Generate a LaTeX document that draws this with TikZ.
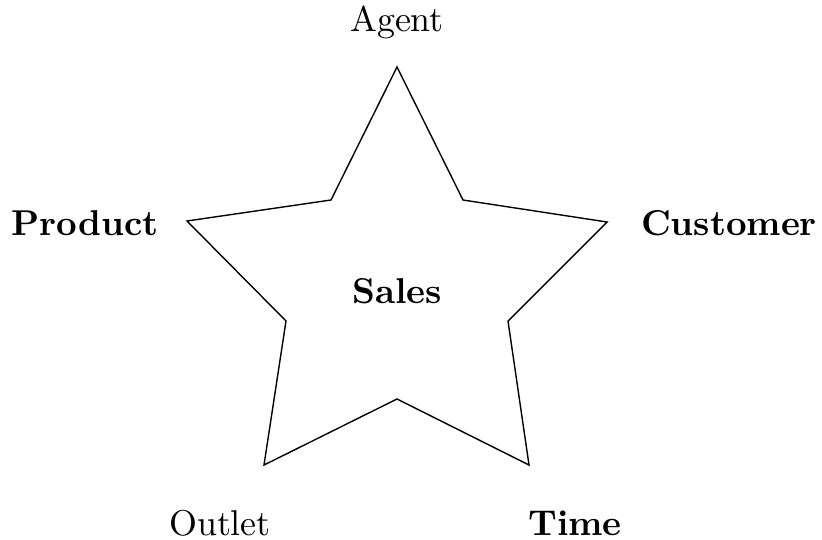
\documentclass[tikz,border=0pt]{standalone}
\begin{document}
\begin{tikzpicture}[x=0.2857pt,y=-0.2857pt,
  lbl/.style={inner sep=0pt, anchor=center, font=\fontsize{10.25}{12}\selectfont},
  bl/.style={inner sep=0pt, anchor=center, font=\fontsize{10.25}{12}\selectfont\bfseries}]
\useasboundingbox (0,0) rectangle (822,539);
\draw[line join=miter] (397,67) -- (463,200) -- (607,222) -- (508,321) -- (529,465) -- (397,399) -- (264,465) -- (286,321) -- (187,221) -- (331,200) -- cycle;
\node[bl] (sales) at (397,291) {Sales};
\node[lbl] (agent) at (397,22) {Agent};
\node[bl] (product) at (85,223) {Product};
\node[bl] (customer) at (729,223) {Customer};
\node[lbl] (outlet) at (220,523) {Outlet};
\node[bl] (time) at (575,523) {Time};
\end{tikzpicture}
\end{document}
